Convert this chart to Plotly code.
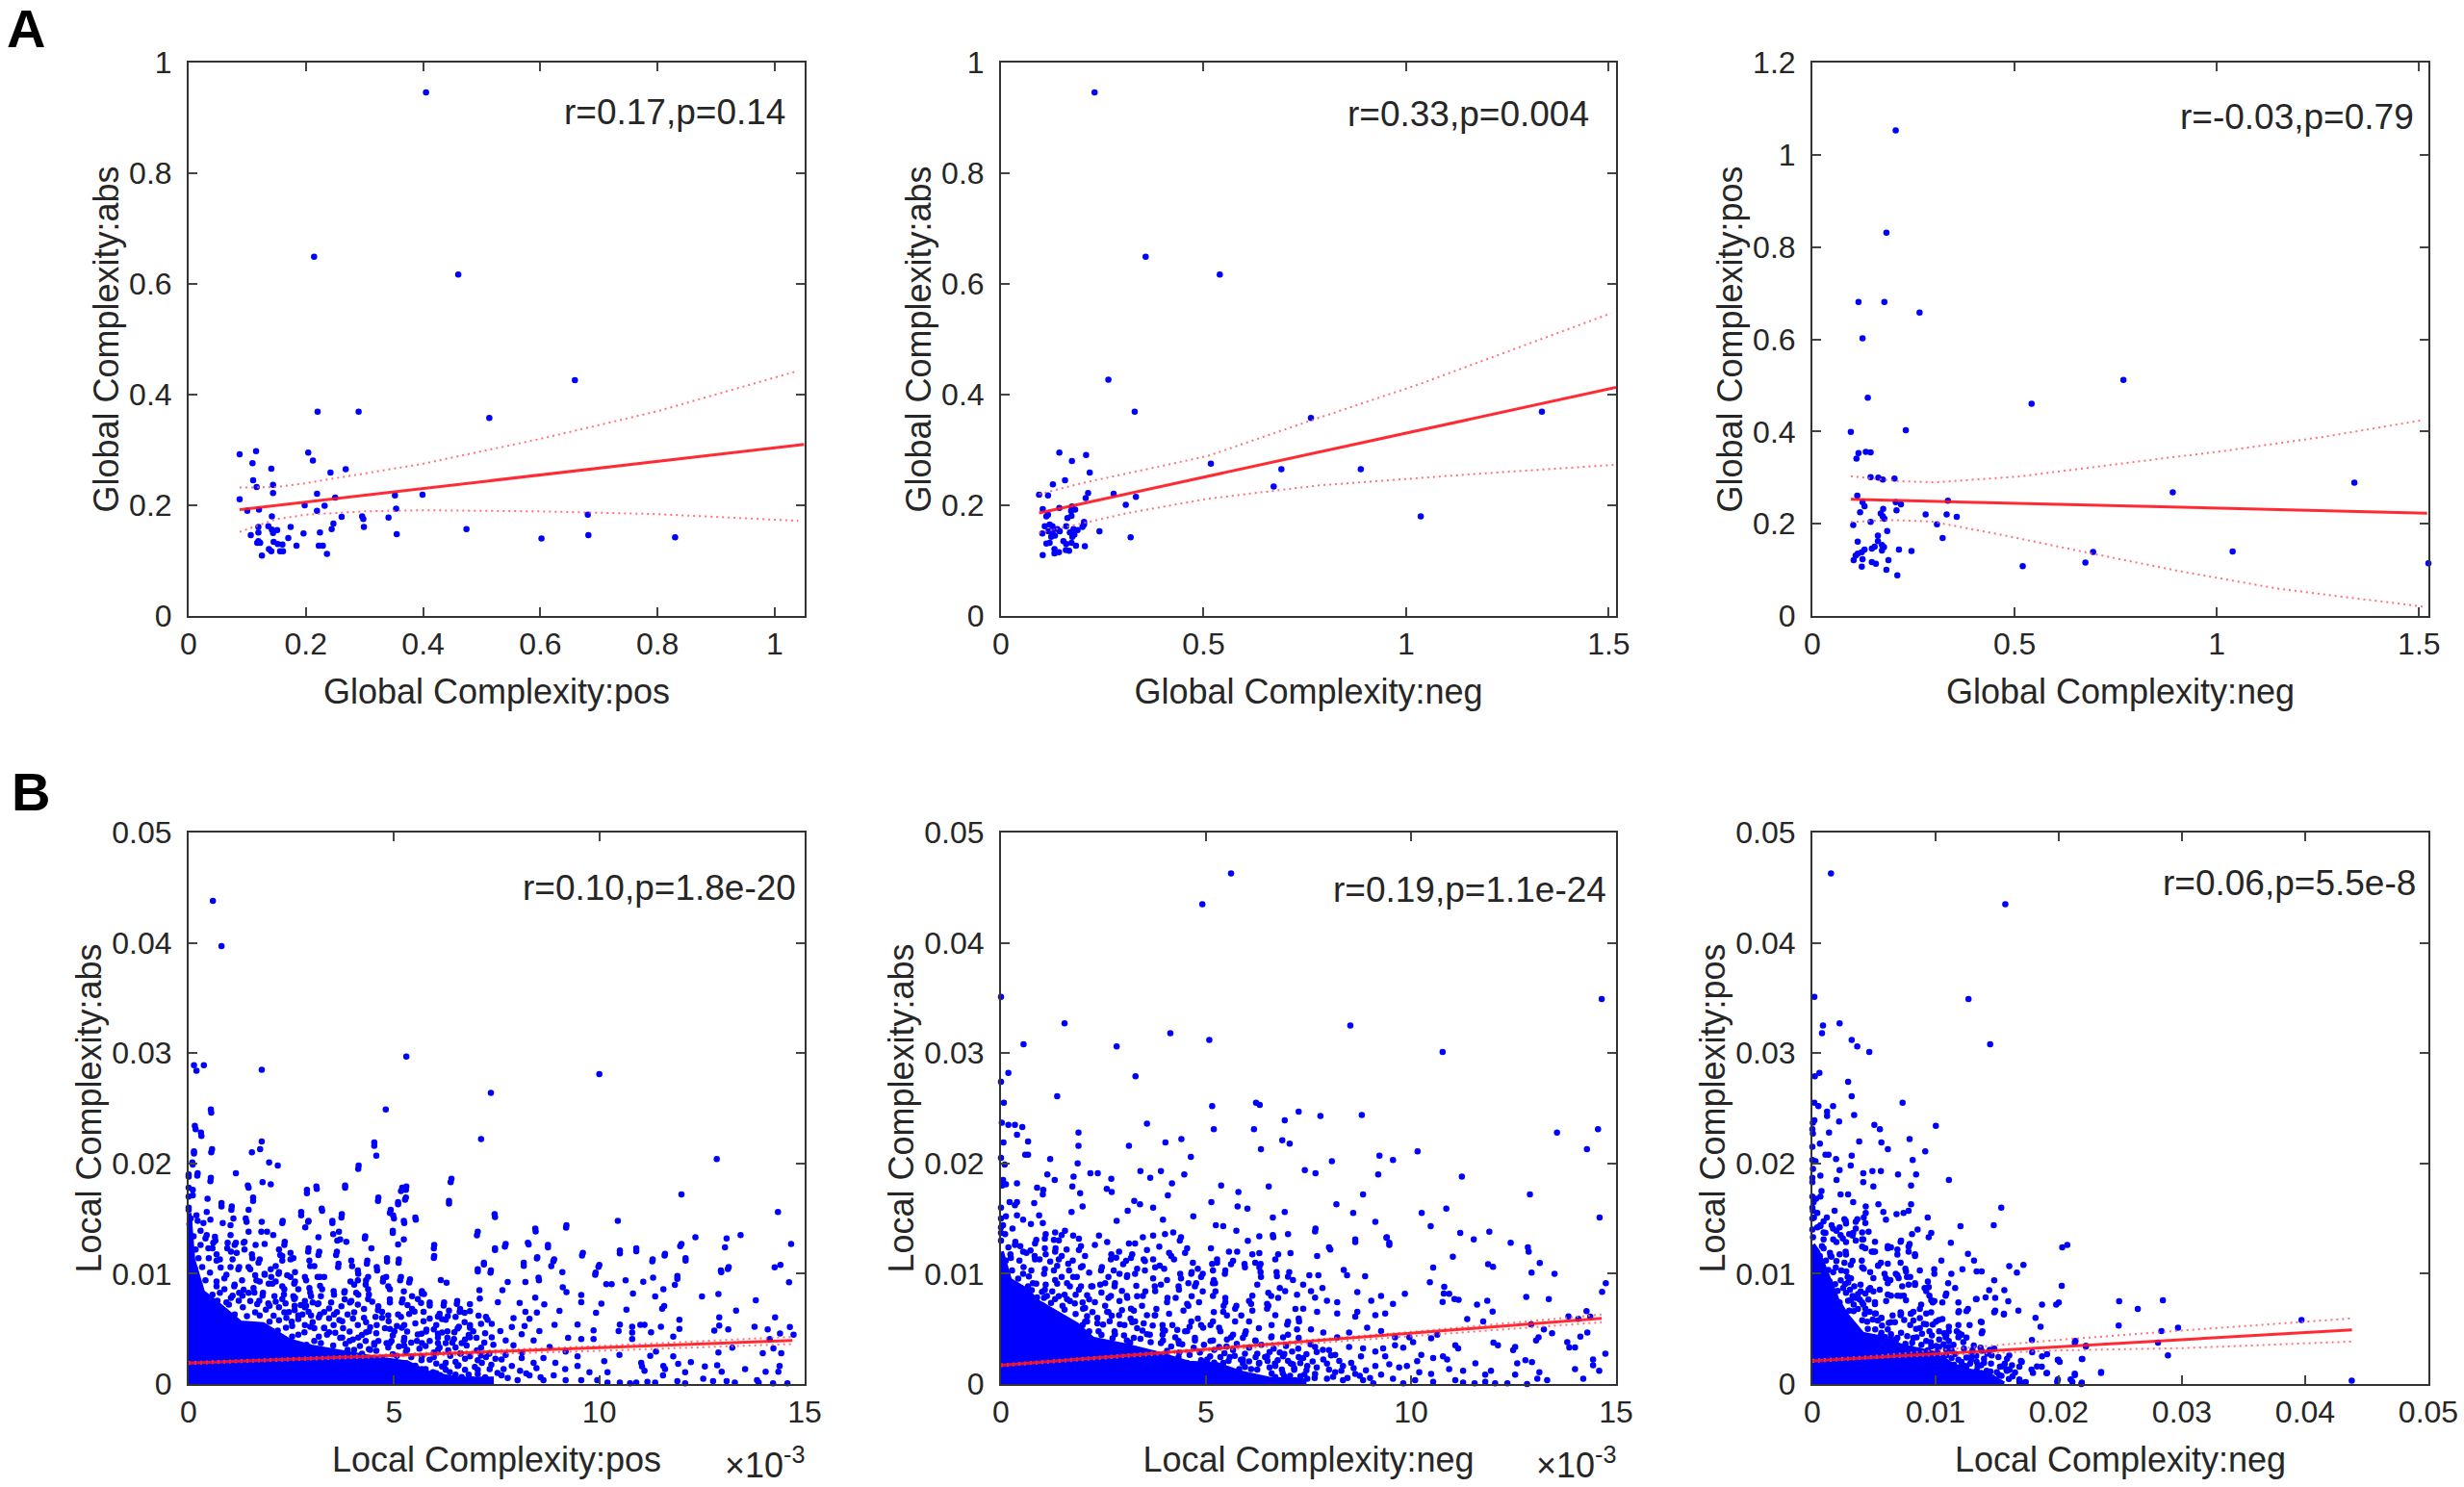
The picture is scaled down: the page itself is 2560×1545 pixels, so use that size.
import plotly.graph_objects as go

# ---------- Panel A: values ----------
a1_points = [(0.405,0.946),(0.214,0.649),(0.46,0.617),(0.659,0.426),(0.22,0.369),(0.29,0.369),(0.513,0.358),(0.087,0.292),(0.115,0.298),(0.204,0.295),(0.109,0.276),(0.212,0.281),(0.141,0.266),(0.268,0.265),(0.242,0.259),(0.11,0.245),(0.116,0.233),(0.144,0.237),(0.144,0.222),(0.219,0.221),(0.087,0.211),(0.25,0.214),(0.352,0.218),(0.399,0.219),(0.198,0.2),(0.232,0.199),(0.1,0.19),(0.12,0.192),(0.219,0.19),(0.354,0.194),(0.142,0.18),(0.261,0.179),(0.296,0.18),(0.298,0.175),(0.341,0.178),(0.681,0.183),(1.052,0.172),(0.247,0.167),(0.174,0.161),(0.136,0.162),(0.299,0.161),(0.244,0.157),(0.474,0.157),(0.119,0.161),(0.142,0.156),(0.151,0.155),(0.119,0.151),(0.106,0.146),(0.144,0.15),(0.196,0.149),(0.224,0.151),(0.355,0.148),(0.682,0.146),(0.83,0.142),(0.602,0.14),(0.17,0.141),(0.119,0.135),(0.117,0.132),(0.122,0.132),(0.145,0.134),(0.152,0.13),(0.16,0.129),(0.184,0.127),(0.222,0.127),(0.229,0.127),(0.137,0.121),(0.141,0.117),(0.156,0.117),(0.161,0.117),(0.125,0.109),(0.236,0.112)]
a1_fit_x = [0.087, 1.05]
a1_fit_y = [0.192, 0.31]
a1_up_x = [0.087,0.15,0.2,0.3,0.4,0.6,0.8,1.04]
a1_up_y = [0.232,0.233,0.24,0.257,0.275,0.32,0.37,0.443]
a1_lo_x = [0.087,0.15,0.2,0.3,0.4,0.6,0.8,1.04]
a1_lo_y = [0.152,0.175,0.183,0.189,0.191,0.189,0.184,0.172]

a2_points = [(0.231,0.946),(0.357,0.649),(0.54,0.617),(0.265,0.427),(0.33,0.369),(1.335,0.369),(0.765,0.358),(0.144,0.295),(0.21,0.291),(1.519,0.298),(0.175,0.28),(0.219,0.259),(0.518,0.275),(0.692,0.265),(0.888,0.265),(0.158,0.245),(0.128,0.238),(0.673,0.234),(0.094,0.219),(0.116,0.218),(0.215,0.222),(0.278,0.221),(0.209,0.213),(0.333,0.215),(0.103,0.193),(0.144,0.195),(0.175,0.198),(0.308,0.201),(0.183,0.192),(0.173,0.19),(0.112,0.18),(0.116,0.183),(0.174,0.181),(0.164,0.177),(1.036,0.18),(0.205,0.17),(0.205,0.165),(0.201,0.161),(0.12,0.165),(0.108,0.162),(0.127,0.162),(0.161,0.162),(0.139,0.157),(0.179,0.157),(0.189,0.155),(0.243,0.153),(0.102,0.149),(0.117,0.153),(0.127,0.151),(0.145,0.153),(0.17,0.151),(0.181,0.147),(0.124,0.143),(0.133,0.145),(0.176,0.143),(0.32,0.142),(0.112,0.131),(0.12,0.132),(0.154,0.135),(0.161,0.13),(0.174,0.132),(0.185,0.127),(0.207,0.126),(0.132,0.121),(0.143,0.115),(0.16,0.119),(0.168,0.118),(0.132,0.113),(0.103,0.11)]
a2_fit_x = [0.094, 1.518]
a2_fit_y = [0.186, 0.413]
a2_up_x = [0.094,0.2,0.51,0.76,1.033,1.506]
a2_up_y = [0.22,0.24,0.289,0.352,0.419,0.547]
a2_lo_x = [0.094,0.2,0.313,0.512,0.785,1.158,1.512]
a2_lo_y = [0.15,0.167,0.186,0.212,0.236,0.256,0.273]

a3_points = [(0.206,1.053),(0.183,0.831),(0.114,0.681),(0.178,0.681),(0.265,0.658),(0.124,0.602),(0.769,0.512),(0.542,0.46),(0.137,0.473),(0.095,0.399),(0.231,0.403),(0.132,0.356),(0.144,0.355),(0.114,0.353),(0.109,0.341),(0.144,0.301),(0.163,0.3),(0.174,0.296),(0.203,0.298),(1.34,0.289),(0.891,0.268),(0.111,0.261),(0.335,0.25),(0.124,0.247),(0.129,0.238),(0.206,0.247),(0.219,0.242),(0.118,0.225),(0.208,0.229),(0.175,0.232),(0.169,0.222),(0.174,0.216),(0.178,0.211),(0.28,0.22),(0.332,0.22),(0.357,0.215),(0.144,0.204),(0.101,0.197),(0.308,0.199),(0.185,0.184),(0.162,0.174),(0.322,0.169),(0.112,0.161),(0.162,0.162),(0.172,0.154),(0.154,0.15),(0.147,0.146),(0.177,0.149),(0.172,0.142),(0.214,0.144),(0.245,0.141),(0.129,0.144),(0.122,0.138),(0.112,0.135),(0.107,0.131),(0.694,0.139),(1.039,0.14),(0.102,0.121),(0.124,0.123),(0.188,0.121),(0.147,0.117),(0.157,0.113),(0.122,0.107),(0.183,0.1),(0.21,0.088),(0.52,0.108),(0.675,0.116),(1.523,0.114)]
a3_fit_x = [0.095, 1.52]
a3_fit_y = [0.253, 0.223]
a3_up_x = [0.095,0.219,0.306,0.505,0.779,1.027,1.276,1.512]
a3_up_y = [0.303,0.292,0.29,0.302,0.332,0.359,0.39,0.425]
a3_lo_x = [0.095,0.194,0.294,0.468,0.654,0.903,1.152,1.512]
a3_lo_y = [0.204,0.208,0.205,0.176,0.142,0.098,0.059,0.02]

# ---------- Panel B: values in units of 1e-3 ----------
b1_points = [(0.59,43.8),(0.8,39.7),(5.3,29.7),(0.13,28.9),(0.37,28.9),(0.19,28.4),(1.78,28.5),(10.0,28.1),(7.36,26.4),(0.54,24.9),(4.8,24.9),(0.15,23.4),(0.3,22.8),(7.12,22.2),(4.52,21.9),(1.78,22.0),(.13,21.1),(.57,21.3),(1.54,21.0),(1.74,21.3),(4.57,20.7),(12.86,20.4),(1.96,20.1),(2.17,19.8),(4.14,19.8),(.09,20.1),(0,19.0),(.22,19.1),(1.15,19.1),(.54,18.7),(6.4,18.6),(1.8,18.3),(2.0,18.1),(1.44,18.0),(3.11,17.9),(3.81,18.0),(2.88,17.6),(5.2,17.8),(5.3,17.9),(12.0,17.2),(1.57,16.9),(4.62,16.9),(5.29,16.9),(6.34,16.6),(5.1,16.5),(.8,16.4),(1.05,16.1),(3.24,15.9),(4.92,15.8),(2.74,15.6),(14.35,15.6),(7.45,15.4),(3.73,15.4),(4.98,15.3),(5.52,15.1),(10.45,14.8),(1.39,15.0),(2.29,14.8),(3.5,14.8),(2.92,14.8),(5.24,14.8),(9.2,14.4),(8.44,14.1),(4.97,13.9),(7.04,13.8),(13.44,13.5),(12.34,13.3),(4.3,13.4),(13.1,13.2),(3.69,13.1),(8.26,12.8),(7.72,12.7),(8.75,12.6),(12.0,12.7),(14.67,12.7),(5.98,12.6),(7.46,12.3),(13.06,12.4),(10.5,12.1),(10.9,12.3),(11.6,11.8),(9.6,11.9),(8.49,11.5),(5.98,11.6),(11.3,11.3),(8.9,11.3),(12.1,11.4),(7.19,11.0),(8.16,11.0),(8.83,10.7),(10.0,10.8),(14.41,10.8),(13.15,10.6),(12.96,10.3),(9.91,10.1),(7.04,10.4),(7.36,10.3),(8.52,9.65),(11.9,9.8)]
b1_lower_right = [(12.5,7.95),(12.9,8.15),(13.81,7.6),(13.33,6.66),(12.92,6.05),(14.28,6.05),(14.64,5.16),(13.78,5.19),(14.1,4.96),(13.14,4.96),(12.8,4.84),(12.92,5.3),(14.4,4.58),(14.73,4.47),(14.15,4.09),(11.95,5.82),(11.95,4.99),(11.8,4.29),(11.5,5.19),(11.1,5.36),(11.0,5.36),(10.8,5.2),(10.5,5.39),(10.47,4.81),(10.8,4.67),(10.8,4.09),(11.26,4.7),(11.53,6.83),(11.58,7.06),(10.66,6.74),(11.36,7.95),(10.82,8.2),(11.56,8.59),(11.84,8.99),(11.9,9.54),(11.31,9.65),(11.07,9.28),(10.64,9.4),(10.3,9.05),(10.17,9.05),(9.9,9.91),(9.98,10.63),(9.58,11.64),(11.29,11.12),(11.59,11.64),(12.1,11.2),(10.5,11.85),(10.9,12.05),(11.97,12.5),(12.97,10.14),(13.13,10.43),(14.27,10.58),(14.62,9.22),(10.49,2.65),(10.12,2.07),(10.2,1.07),(11.38,2.94),(11.24,2.56),(11.02,1.93),(11.04,1.59),(11.1,1.21),(11.56,1.64),(11.6,1.35),(11.55,0.78),(11.8,2.5),(11.92,1.84),(12.23,1.99),(12.09,1.07),(12.57,1.59),(12.87,1.7),(12.98,1.12),(12.9,2.85),(13.24,3.29),(13.98,2.8),(14.24,3.23),(14.43,2.8),(14.39,1.64),(14.36,1.12),(14.05,1.12),(13.55,1.35),(12.53,.49),(11.9,.26),(12.09,.06),(11.17,.2),(11.36,.14),(10.9,.14),(10.5,.14),(10.2,.14),(10.75,.06),(12.77,.26),(13.1,.26),(13.3,.12),(13.84,.35),(14.23,.06),(14.58,.06),(13.88,.14)]
b1_middle = [(5.97,12.3),(5.97,11.44),(6.38,18.3),(6.34,16.37),(6.14,9.42),(6.28,9.19),(7.02,13.49),(7.46,15.13),(7.46,12.16),(7.7,12.45),(8.45,13.83),(9.19,14.18),(8.28,12.65),(8.75,12.39),(8.48,11.38),(8.88,11.12),(8.16,10.72),(7.19,10.84),(7.04,10.2),(7.35,10.09),(9.1,10.14),(7.77,9.25),(8.53,9.4),(8.2,9.25),(9.11,8.76),(9.2,8.33),(9.56,8.07),(9.56,7.41),(10.05,7.29),(9.92,6.46),(9.03,6.63),(8.66,7.23),(8.44,7.84),(8.06,7.35),(7.64,8.5),(7.08,8.5),(7.09,7.75),(7.53,7.41),(6.85,6.6),(6.6,6.54),(6.53,7.26),(6.21,7.12),(5.87,7.12),(5.73,8.16),(8.48,6.48),(8.2,6.54),(8.3,5.91),(7.91,5.97),(7.28,5.82),(7.38,5.45),(8.91,5.36),(9.47,5.39),(9.86,4.87),(9.86,4.09),(9.56,4.09),(9.24,4.18),(8.54,4.81),(8.18,5.25),(7.87,5.16),(7.59,4.81),(6.85,5.1),(6.55,5.04),(6.26,5.82),(6.07,6.11),(5.78,4.76),(6.17,4.67),(5.97,4.96),(6.46,4.09),(6.85,4.24),(7.38,4.24),(7.72,3.95),(8.11,4.52),(7.91,3.52),(8.4,3.95),(8.79,3.37),(9.18,2.94),(9.47,2.5),(6.26,1.93),(6.55,1.64),(6.85,2.5),(7.14,1.93),(7.33,1.35),(7.62,2.22),(7.87,1.64),(8.11,2.36),(8.4,1.93),(8.64,2.36),(8.93,1.93),(9.17,1.35),(9.47,1.64),(9.76,1.07),(9.95,.35),(9.56,.35),(9.18,.35),(8.89,.78),(8.64,.35),(8.3,.78),(8.01,.35),(7.62,.78),(7.33,.35),(7.04,.92),(6.65,.63),(6.36,1.07),(6.07,.78)]
b1_left = [(.8,16.1),(.83,14.6),(1.02,14.4),(1.04,15.8),(1.09,15),(1.02,13.5),(.65,13),(.46,16.8),(.17,23.1),(.31,22.5),(.55,24.6),(.55,21),(.13,20.9),(.1,19.9),(.21,18.9),(.53,18.4),(0,18.8),(.1,17.6),(.1,17.1),(0,15.8),(.19,15.3),(.44,15.6),(.29,13.9),(.53,14.9),(.44,13.5),(.29,12.6),(.58,12.3),(.49,11.4),(.68,11.2),(.24,11.4),(.94,12.3),(1.12,12.6),(1.36,12.9),(1.17,11.9),(1.36,12.2),(1.02,10.6),(1.21,10.4),(1.55,11.4),(1.7,11),(1.5,10.4),(1.65,9.4),(.92,9.9),(.68,9.3),(1.12,9),(.87,8.6),(1.31,8),(1.07,8),(1.6,8.3),(1.46,15.8),(1.46,17.8),(1.57,16.6),(1.41,14.7),(1.78,14.7),(1.46,13.8),(1.77,13.8),(1.91,13.8),(2.06,13.5),(1.85,12.7),(1.63,12.6),(2.28,14.6),(2.33,12.6),(2.23,11.7),(2.48,11.3),(2.28,11.2),(2,10.4),(1.85,9.9),(2.19,10),(2.48,9.7),(2.57,9.1),(2.86,9.4),(2.96,10.7),(3.2,9.7),(2.91,12),(3.16,11.7),(3.16,13.3),(2.74,15.3),(2.91,14.7),(2.84,14.2),(3.25,15.7),(2.88,17.3),(3.12,17.7),(3.81,17.8),(3.5,14.6),(3.72,15.1),(3.52,13.6),(3.66,13.8),(3.62,13),(3.84,12.9),(3.59,11.7),(3.64,10.6),(3.98,10.7),(4.13,10),(4.03,9),(4.29,13.2),(4.45,12.3),(4.34,10.9),(4.59,10.3),(4.83,11.1),(5.11,11),(4.81,9.7),(4.73,9.3),(5.15,9.4),(5.37,9.2),(5.24,8.4),(5.68,8.2),(4.9,8.6),(4.32,9.4),(4.37,8.6),(4.13,8.1),(3.79,8.3),(3.54,8.1),(3.25,8.6),(2.96,8.3),(2.67,8.6),(2.33,8.6),(2.04,9.1),(2.57,7.7),(2.28,7.7),(1.8,8),(1.94,7.3),(3.16,7.3),(2.86,7.1),(3.93,7.4),(4.37,7.7),(4.9,7.4),(5.19,7.4),(5.58,7.7),(5.44,6.8),(5.1,6.3),(4.61,6.7),(4.03,6.5),(3.54,6.3),(3.2,6.3),(2.77,6.3),(2.33,6.5),(3.74,5.7),(3.3,5.1),(2.96,5.2),(4.32,4.7),(4.71,6),(4.9,5),(5.19,5.1),(5.58,4.5),(4.52,3.7),(4.9,3.7),(5.24,3.9),(5.68,3.7),(4.13,4.2),(3.74,4.2),(4.03,3.1),(4.42,3.1),(5.29,2.9),(5.68,2.5),(6.07,3.1),(6.26,3.7),(6.65,3.7),(6.07,4.2),(5,1.6),(5.68,1.35),(5.87,2.2),(5.29,1.9),(6.17,1.6),(5.95,1.07),(4.13,19.5),(4.52,21.6),(5.1,16.3),(5.27,16.7),(4.61,16.6),(4.9,15.5),(5,15),(5.25,14.6),(5.53,14.9),(4.97,13.7),(5.24,13.1),(5.1,12.65),(5.17,17.5),(5.29,17.6)]
b1_band = [(2.34,12.9),(2.92,12.3),(3.18,12),(3.61,12),(2.2,12.2),(2.28,11.6),(2.48,11.9),(2.55,11.4),(1.73,11.3),(1.54,11.75),(1.34,12.8),(1.15,12.8),(.95,12.8),(.64,13.35),(.6,12.8),(.68,11.75),(.76,11.3),(1.03,12),(1.07,11.3),(1.23,10.6),(1.46,10.6),(1.62,9.86),(1.73,9.3),(1.85,10),(2.01,9.7),(2.12,10.7),(2.2,10.15),(2.4,9.86),(2.59,10.15),(2.59,9.3),(2.83,9.7),(3.06,10.7),(2.94,11.2),(3.14,9.7),(3.3,9.7),(3.65,10.9),(3.96,11.2),(4.12,10.3),(4.12,9.4),(4.35,11.2),(4.37,9.7),(4.58,10.6),(4.74,9.6),(4.83,11.4),(5.12,11.3),(5.17,9.7),(5.39,9.5),(4.86,8.85),(4.31,9),(3.94,9.3),(3.2,8.9),(2.94,8.7),(2.28,8.85),(2.12,9.3),(1.58,8.7),(1.34,8.55),(1.11,8.85),(.87,9.57),(.68,8.85),(.41,9.4),(.33,10.6),(.17,12.2),(.41,13.2),(.48,12.3),(.76,8.26),(1.23,8.26),(1.46,8.26),(1.81,8.26),(2.09,7.97),(2.32,8.12),(2.55,7.97),(2.83,7.53),(2.98,7.97),(3.22,7.97),(3.53,8.41),(3.8,8.41),(4.08,8.26),(4.39,8.12),(4.62,7.04),(4.9,7.68),(5.21,7.68),(5.44,7.97),(5.68,8.41),(5.87,7.39),(6.22,7.39),(6.54,7.53),(6.85,7.24),(6.61,6.8),(6.34,6.66),(6.11,6.37),(5.87,5.93),(5.5,6.57),(5.17,6.08),(4.86,6.22),(4.55,6.08),(4.27,6.8),(3.96,7.53),(3.8,7.68),(3.61,6.52),(3.3,6.52),(3.14,7.24),(2.83,6.95),(2.59,7.82),(2.44,6.52),(2.2,6.95),(1.97,7.1),(1.73,6.22),(1.5,7.53),(1.03,7.82),(.8,6.8),(.33,7.82),(2.98,6.22),(2.67,6.22),(2.2,5.79),(2.51,5.64),(2.83,5.35),(3.06,5.06),(3.3,5.06),(3.53,5.35),(3.76,5.06),(4,5.93),(4.12,5.35),(4.39,4.77),(4.58,5.35),(4.78,5.06),(5.01,4.77),(5.25,5.35),(5.52,5.5),(5.79,4.92),(6.03,5.35),(6.3,4.77),(6.58,5.2),(6.85,5.35),(6.93,4.77),(6.5,6.08),(7.24,6.08),(7.01,4.19),(6.73,4.04),(6.3,4.19),(5.87,3.9),(5.56,3.9),(5.25,4.19),(4.94,3.9),(4.62,3.9),(4.31,3.9),(4,4.04),(3.69,4.19),(3.37,4.48),(3.06,3.9),(2.67,4.48),(2.36,3.9),(7.2,3.75),(6.11,3.32),(6.5,3.32),(5.25,3.46),(4.86,3.32),(4.39,3.17),(3.92,3.9),(6.03,1.86),(6.26,1.28),(6.5,2.01),(6.73,2.3),(7.04,2.15),(7.24,2.44),(6.73,1.28),(6.5,.84),(7.04,1.28),(6.89,.41),(6.03,.99),(5.87,.7),(0,16),(0,17),(0,17.8),(.02,14.5),(.05,15)]
b1_fringe = [(.16,7.1),(.52,6.85),(.98,7.2),(1.32,6.95),(1.67,7.25),(2.36,7.3),(2.73,7.15),(3.47,7.4),(4.12,7.2),(4.47,7.45),(5.33,7.15),(5.66,7.35),(.31,6.1),(.57,6.4),(.72,6.05),(1.12,6.3),(1.42,6.15),(1.62,6.5),(2.07,6.2),(2.38,6.0),(2.92,6.55),(3.17,6.05),(3.87,6.3),(4.27,6.0),(4.71,6.55),(5.37,6.35),(5.72,6.55),(6.31,6.15),(6.72,6.45),(7.06,6.2),(.56,5.5),(.82,5.25),(1.02,5.6),(1.47,5.2),(1.97,5.65),(2.37,5.1),(2.67,5.9),(3.02,5.6),(3.67,5.8),(4.32,5.6),(4.87,5.7),(5.07,5.25),(5.72,5.7),(6.17,5.9),(6.72,5.6),(7.12,5.45),(1.92,4.55),(2.17,4.85),(2.52,4.3),(2.82,4.7),(3.17,4.3),(3.57,4.65),(3.92,4.75),(4.22,4.45),(4.57,4.6),(4.97,4.4),(5.32,4.75),(5.67,4.55),(6.07,4.55),(6.47,4.7),(6.82,4.45),(7.22,4.6),(2.47,3.75),(2.87,3.55),(3.22,3.7),(3.52,3.5),(3.82,3.65),(4.17,3.45),(4.52,3.55),(4.82,3.7),(5.12,3.4),(5.42,3.75),(5.77,3.45),(6.07,3.7),(6.42,3.75),(6.77,3.5),(7.12,3.3),(7.42,3.55),(3.22,3.05),(3.52,2.9),(3.87,3.1),(4.22,2.75),(4.57,3.0),(4.97,2.7),(5.32,3.1),(5.62,3.2),(5.97,2.85),(6.32,3.05),(6.62,2.8),(7.02,3.05),(7.32,2.75),(4.72,2.35),(5.07,2.55),(5.42,2.45),(5.67,2.15),(5.97,2.45),(6.37,2.55),(6.62,2.75),(7.12,2.6),(7.47,2.3),(7.72,2.65),(8.12,2.85),(5.52,1.65),(5.77,1.35),(6.22,1.55),(6.57,1.7),(6.97,1.55),(7.37,1.75),(7.67,1.35),(8.07,1.2),(8.47,1.45),(6.12,.8),(6.42,.5),(6.82,.85),(7.22,.6),(7.52,1.0),(7.77,.55),(8.22,.95),(8.57,.6),(.12,13.4),(.22,14.8),(.36,14.6),(.16,10.4),(.52,10.1),(.78,10.55),(1.3,9.4),(1.95,9.1),(.26,9.05),(.58,8.1),(.92,7.4),(1.22,7.55),(1.72,7.55),(2.12,7.45),(2.58,7.1),(3.02,7.4),(3.42,6.85),(3.72,7.05),(2.52,5.25),(3.42,5.95),(4.42,5.15),(.45,7.3),(.7,7.55),(1.88,6.75),(2.58,6.7),(3.42,4.7)]
# outline of the area where the dots merge into solid blue
b1_core_x = [0,7.36,7.36,6.5,5.8,5.33,4.55,2.98,2.44,1.81,1.26,.95,.64,.33,.09,0]
b1_core_y = [0,0,.41,.41,.99,1.86,2.29,3.32,3.9,5.35,5.5,6.5,7.4,8.3,11.3,15.5]
b1_fit_x = [0, 14.7]
b1_fit_y = [1.9, 3.95]
b1_up_x = [0,5,10,14.7]
b1_up_y = [1.98,2.72,3.45,4.28]
b1_lo_x = [0,5,10,14.7]
b1_lo_y = [1.82,2.48,3.01,3.62]

b2_points = [(5.61,46.3),(4.91,43.5),(0,35.1),(14.65,34.9),(1.55,32.7),(8.52,32.5),(4.13,31.8),(5.08,31.2),(.55,30.8),(2.82,30.6),(10.77,30.1),(3.28,27.9),(.18,28.2),(0,27.4),(1.37,26.1),(.07,25.5),(6.22,25.5),(6.31,25.3),(5.15,25.2),(7.26,24.7),(8.8,24.4),(7.79,24.3),(6.92,23.9),(.02,23.7),(.18,23.5),(.34,23.5),(.52,23.3),(3.56,23.6),(5.19,23.1),(6.17,23.1),(14.56,23.1),(13.56,22.8),(1.89,22.8),(.39,22.6),(.06,21.9),(.66,22),(4.01,21.9),(4.4,22.2),(6.86,22.1),(7.04,21.8),(3.12,21.6),(1.89,21.6),(6.34,21.3),(14.29,21.3),(10.16,21.1),(.66,20.8),(.59,20.8),(4.63,20.6),(9.23,20.7),(1.2,20.4),(9.56,20.3),(8.07,20.2),(.09,19.9),(1.87,20),(3.4,19.3),(2.36,19.1),(2.18,19.1),(3.9,19.3),(7.41,19.4),(7.67,19.1),(4.47,19),(9.2,19),(1.13,19),(1.31,18.5),(2.69,18.6),(3.64,18.7),(1.77,18.8),(11.24,18.8),(.12,18.1),(4.17,18.2),(5.37,18),(6.53,17.9),(1.74,17.9),(2.58,17.7),(2.7,17.4),(5.79,17.4),(8.83,17.2),(12.9,17.2),(4.07,17.1),(1.03,17.6),(1.93,17.3),(.21,16.5),(.39,16.5),(3.25,16.6),(3.39,16.3),(5.13,16.5),(8.18,16.3),(1.99,16.1),(3.09,15.7),(3.71,16),(5.77,16.1),(6.01,15.9),(10.86,15.9),(10.26,15.5),(8.59,15.5),(1.72,15.6),(4.69,15.2),(6.92,15.6),(6.63,15.1),(2.82,14.8),(14.6,15.1),(9.13,14.7),(3.95,14.9),(5.24,14.4),(5.42,14.3),(10.48,14.3),(0,13.7),(11.2,13.7),(11.91,13.8),(7.67,14.1),(5.74,13.9),(9.41,13.3),(4.39,13.3),(6.63,13.5),(11.53,13.1),(8.64,13.1),(12.43,12.8),(9.47,12.8),(12.85,12.4),(8,12.4),(12.87,12)]
b2_lower_right = [(11.02,11.53),(10.54,10.55),(11.88,10.87),(12,10.63),(13.14,10.98),(12.94,10.1),(13.5,10),(10.46,9.22),(10.81,8.82),(9.85,8.18),(10.8,8.2),(10.93,8.18),(10.77,7.44),(11.06,7.69),(11.16,7.64),(11.61,7.2),(11.86,7.55),(12.81,7.9),(13.36,7.69),(14.75,9.14),(14.66,8.36),(11.99,6.57),(11.37,5.88),(11.76,5.68),(13.84,6.14),(14.08,5.91),(14.28,6.6),(14.37,6.11),(12.93,5.42),(13.24,4.96),(13.44,4.61),(13.11,4.24),(13.05,3.95),(14.13,4.29),(14.3,4.67),(13.81,3.8),(13.86,3.31),(14,3.31),(14.74,2.74),(12.01,3.75),(12.12,3.52),(12.54,3.37),(12.49,3.08),(11.08,3.52),(11.15,3.23),(10.49,4.15),(10.64,4.47),(9.81,3.29),(9.96,4.24),(10.05,3.8),(10.54,2.36),(10.78,2.5),(10.88,2.22),(10.25,2.65),(10.15,2.07),(12.59,1.87),(12.79,2.16),(12.95,1.99),(14.44,2.22),(14.44,1.7),(14,1.35),(14.59,1.21),(14.2,.49),(12.54,.84),(13.13,1.07),(13.08,.49),(13.32,.35),(12.83,0),(12.35,.06),(12.05,.06),(11.95,1.21),(11.81,.84),(11.57,1.87),(11.27,1.21),(10.93,1.35),(10.49,.92),(11.08,.35),(11.55,.06),(11.81,.2),(11.27,.14),(10.54,.2),(10.2,1.07),(10.1,.35),(9.9,1.64),(9.71,1.5),(9.47,1.79),(9.27,.84),(9.56,.49),(9.81,.06),(9.13,1.64),(9.08,.06)]
b2_middle = [(9.61,3.52),(9.32,3.23),(9.13,2.94),(9.37,2.5),(8.83,3.23),(8.78,2.5),(8.49,3.37),(8.54,1.93),(8.34,1.64),(8.15,2.65),(8,3.08),(7.86,2.22),(7.66,3.37),(7.47,1.64),(7.37,2.36),(7.12,1.79),(6.88,2.5),(6.69,1.64),(6.49,2.5),(6.3,1.93),(6.1,1.35),(7.66,.92),(8.15,1.07),(8.64,.92),(8.83,.35),(8.34,.35),(7.95,.49),(7.47,.49),(7.17,.35),(6.69,.63),(9.61,4.24),(9.27,4.81),(8.93,5.1),(8.49,4.67),(8.2,4.24),(7.86,4.67),(7.56,4.96),(7.27,5.68),(7.22,4.96),(6.98,5.39),(6.69,6.25),(6.49,6.83),(6.93,8.42),(6.59,7.98),(6.49,7.26),(6.1,7.26),(5.71,6.83),(5.47,7.41),(5.42,6.54),(5.17,5.68),(4.93,5.1),(5.32,5.1),(5.61,4.24),(5.95,4.52),(6.2,3.95),(6.59,4.24),(6.88,4.24),(5.71,5.68),(6.05,5.68),(4.64,5.68),(4.54,4.81),(4.25,4.24),(3.95,4.96),(3.76,6.25),(4.05,7.41),(4.54,7.26),(4.83,7.41),(5.17,7.98),(5.22,9.14),(4.73,8.85),(4.34,8.56),(3.76,8.42),(3.46,7.98),(3.17,6.83),(3.07,7.98),(2.68,7.98),(2.78,9.14),(3.07,9.71),(3.27,10),(2.98,10.87),(3.17,11.44),(2.68,11.3),(2.88,12),(3.12,12.74),(3.27,12.74),(2.59,12.88),(2.29,12.6),(2.39,13.46),(3.46,13.3),(3.71,13.46),(3.56,12.16),(3.51,11.15),(3.76,10.58),(4.05,9.42),(4.39,9.57),(4.64,10),(4.88,9.71),(5.17,10.29),(5.17,9.14),(5.46,10),(5.27,11),(5.61,10.87),(5.76,12),(5.56,12),(5.12,12.3),(4.68,11),(4.54,12.3),(4.36,13),(4.15,11.6),(4,13.6),(4.2,13.75),(3.86,12.45),(5.95,10.58),(6.3,10.58),(6.34,9.71),(6.73,9.77),(7.03,10.14),(7.12,9.42),(7.52,9.86),(7.74,9.86),(7.37,9),(7.84,8.7),(7.56,8.42),(7.66,7.84),(7.95,7.55),(8.2,7.41),(7.37,6.83),(7.71,6.54),(8.2,6.4),(8.69,6.54),(8.64,6.11),(9.13,6.25),(9.37,6.4),(9.03,7.55),(9.27,7.98),(9.56,7.26),(8.69,8.33),(8.88,9.77),(8.44,9.86),(8.36,10.35),(8.03,12.2),(7.71,11.6),(7.06,11.87),(6.69,11.3),(6.3,11.87),(6.2,11),(6.02,12.97),(6.64,13.3),(7,13.6),(6.3,13.4),(7.66,13.83),(8.64,12.88),(9.47,12.6),(9.4,13.26)]
b2_left = [(.34,16.2),(.39,15.3),(.54,14.9),(.73,14.5),(1.02,14.6),(.93,15.3),(.81,16.4),(1.02,17.2),(.88,17.8),(.39,18.2),(1.32,13.75),(1.56,13.9),(1.76,13.46),(1.9,13.17),(1.9,12.16),(1.41,13.03),(1.07,13.17),(.83,12.74),(.34,12.6),(.54,12),(.24,11.44),(.83,11.3),(1.07,12.3),(1.32,12),(1.41,11.3),(1.07,10.43),(1.37,10.72),(1.66,10.29),(1.95,10.58),(1.85,9.71),(1.61,9.14),(1.32,9.42),(1.07,8.56),(.78,9.14),(.54,10),(1.9,8.56),(2.2,8.85),(2.44,10.29),(2.54,9.14),(2.29,7.41),(2,6.83),(1.61,7.69),(1.32,7.69),(1.12,7.98),(1.02,7.12),(2.59,6.54),(2.88,6.25),(2.49,5.39),(2.1,5.68),(3.07,3.95),(3.27,5.68),(3.56,6.25),(2.78,4.52),(3.56,4.52),(3.95,3.95),(4.34,3.66),(4.73,3.95),(5.17,3.95),(4.05,2.5),(4.54,1.93),(5.03,2.22),(5.42,1.93),(5.81,1.35),(5.9,2.22),(5.66,3.08),(5.32,3.37)]
b2_band = [(.35,12.9),(.47,12.5),(.86,13.06),(1.09,13.6),(1.29,13.06),(1.48,13.5),(.23,11.75),(.82,11.6),(.94,11.3),(.55,10.6),(.74,10.3),(1.09,11.75),(1.33,12.3),(1.48,11.6),(1.64,10.9),(1.95,12.5),(1.99,10.7),(1.05,10),(1.29,10.3),(1.48,9.7),(1.76,9.7),(1.95,8.85),(1.68,8.85),(1.37,9.1),(1.09,9),(.86,9.1),(.66,8.85),(.35,9),(.27,10.3),(1.05,7.8),(1.41,7.97),(1.68,7.53),(1.99,7.39),(2.23,8.85),(2.42,9),(2.62,9.7),(2.89,10),(3.08,9.86),(3.32,10.44),(3.51,10.3),(3.71,9.57),(2.46,10.6),(2.69,11.75),(2.81,11.46),(3.05,11.17),(3.2,11.75),(3.48,11.3),(3.71,11.3),(3.87,10.73),(3.98,10.44),(4.1,11.9),(4.22,11.3),(4.49,11.9),(4.37,10),(4.65,10.15),(4.8,10.44),(4.92,10),(4.33,8.85),(4.57,9.13),(4.76,9.13),(4.92,8.4),(5.19,9.43),(5.23,8.4),(5.47,10.3),(5.27,11.3),(5.15,10.88),(5.66,11.17),(5.94,10.88),(6.13,11.75),(6.33,10.88),(6.33,10.15),(7,9.72),(6.76,11.75),(6.72,10.15),(6.25,9),(6.13,8),(6.52,8.26),(6.8,8.7),(7.22,8.1),(6.05,7.53),(5.74,7.1),(5.47,7.82),(5.43,7.1),(6.52,7.1),(6.76,7.82),(7.18,6.8),(6.13,6.66),(5.86,6.22),(5.51,6.22),(5.19,6.52),(4.88,5.35),(4.57,7.1),(4.65,7.97),(4.45,6.66),(4.26,7.82),(4.06,7.82),(3.75,8.85),(3.9,9),(3.52,8.4),(3.32,7.97),(3.08,7.82),(2.77,8.85),(2.62,7.82),(2.89,7.53),(3.44,7.1),(3.24,6.66),(3.79,6.8),(4.1,6.37),(3.16,5.93),(3.48,5.5),(3.75,6.22),(3.94,5.35),(4.18,5.35),(4.49,4.77),(4.8,5.93),(5.11,5.35),(5.35,4.77),(5.66,4.48),(5.97,4.77),(6.29,5.06),(6.6,5.35),(7,5.64),(7.26,5.93),(7,4.48),(6.6,4.33),(6.21,3.9),(5.9,4.19),(5.51,4.04),(5.11,3.9),(4.73,4.19),(4.33,3.9),(3.94,4.48),(3.63,4.48),(3.32,5.06),(3.24,4.19),(3.01,5.35),(2.62,6.52),(2.23,6.52),(2.54,7.1),(2.15,7.68),(2.38,4.77),(2.77,4.77),(1.99,5.35),(2.15,4.77),(7.26,4.19),(4.33,2.44),(4.57,1.57),(4.88,2.15),(5.35,2.44),(5.58,2.44),(5.9,1.86),(6.21,2.44),(6.44,2.44),(6.68,1.86),(6.29,1.86),(6.91,2.73),(7.07,1.86),(7.26,2.44),(6.87,.99),(7.15,1.28),(6.91,.7),(7.3,.7),(0,13),(0,14.2),(0,15),(0,16),(.03,18),(0,20.5),(.05,18.5),(.05,14.4)]
b2_fringe = [(.15,9.9),(.42,9.55),(.68,9.75),(.22,8.6),(.48,8.3),(.75,8.5),(1.0,8.35),(.62,7.6),(.88,7.85),(1.22,7.35),(1.5,7.1),(1.8,7.3),(2.05,6.9),(1.2,6.55),(1.55,6.75),(1.82,6.35),(2.1,6.15),(2.35,6.0),(2.7,6.2),(2.95,6.7),(2.05,5.65),(2.35,5.5),(2.65,5.7),(2.9,5.4),(3.2,5.6),(3.45,4.85),(3.7,5.3),(4.0,4.85),(4.3,4.9),(4.6,5.2),(2.45,4.45),(2.72,4.15),(3.0,4.4),(3.15,3.75),(3.4,4.1),(3.65,3.8),(3.9,3.7),(4.15,3.4),(4.42,3.6),(4.7,3.3),(4.95,3.55),(5.2,3.1),(5.5,3.4),(5.75,3.65),(6.05,3.3),(6.35,3.55),(6.65,3.2),(6.95,3.45),(7.25,3.2),(7.55,3.6),(7.85,3.1),(4.05,3.0),(4.35,2.85),(4.6,2.65),(4.85,2.85),(5.1,2.5),(5.45,2.8),(5.7,2.55),(5.95,2.75),(6.25,2.75),(6.55,2.9),(6.8,2.85),(7.1,2.95),(7.45,2.7),(7.7,2.9),(8.05,2.6),(5.0,2.0),(5.2,1.95),(5.55,2.1),(5.85,2.2),(6.05,2.05),(6.5,2.1),(6.75,2.15),(7,2.1),(7.3,1.9),(7.6,2.05),(7.95,1.85),(8.25,2.1),(5.95,1.55),(6.25,1.3),(6.55,1.5),(6.85,1.3),(7.15,1.45),(7.45,1.25),(7.7,1.5),(8.0,1.3),(8.3,1.2),(8.6,1.45),(8.9,1.25),(6.6,.95),(7.05,.75),(7.4,.85),(7.65,.55),(8.1,.65),(8.45,.55),(8.75,.75),(9.0,.55),(.12,11.2),(.18,12.4),(.1,13.6),(.28,14.1),(.62,11.9),(.45,11.2),(.72,12.1),(.12,15.2),(1.2,11.1),(1.6,12.2),(1.75,11.2),(2.05,11.6),(2.15,10.1),(2.75,10.3),(.2,7.9),(.45,7.35),(.7,7.1),(1.25,8.4),(1.55,8.1),(1.82,8.1),(2.1,8.05),(2.45,8.3),(2.95,8.45),(3.3,8.9)]
b2_core_x = [0,7.38,7.38,6.52,5.82,5.27,4.57,3.79,3.01,2.23,1.84,1.44,.9,.59,.2,0]
b2_core_y = [0,0,.26,.41,.99,1.72,1.86,2.73,3.46,4.04,5.35,6.22,7.39,8.55,9.4,12]
b2_fit_x = [0, 14.65]
b2_fit_y = [1.7, 5.95]
b2_up_x = [0,5,10,14.65]
b2_up_y = [1.78,3.22,4.72,6.3]
b2_lo_x = [0,5,10,14.65]
b2_lo_y = [1.62,2.98,4.28,5.6]

b3_points = [(1.51,46.3),(15.66,43.5),(.16,35.1),(12.67,34.9),(2.21,32.7),(.86,32.5),(.78,31.8),(3.19,31.2),(14.43,30.8),(3.64,30.6),(4.62,30.1),(.57,28.2),(.2,27.9),(2.9,27.4),(3.19,26.1),(7.32,25.5),(.16,25.5),(.49,25.2),(1.68,25.2),(1.19,24.7),(1.19,24.3),(3.39,24.4),(2.17,23.8),(.04,23.7),(.16,23.9),(10.02,23.4),(5.03,23.5),(5.48,23.1),(0,23.1),(1.35,22.8),(.04,22.7),(3.8,22),(5.6,21.9),(7.89,22.2),(.61,21.8),(6.13,21.3),(9.16,21.1),(1.06,20.8),(1.31,20.8),(1.92,20.4),(3.19,20.7),(8.14,20.3),(0,20.3),(.25,20.2),(3.11,19.8),(11.08,18.5),(2.21,19.4),(4.13,19.1),(4.87,19.3),(5.56,19.3),(6.95,19),(8.42,19),(1.96,18.5),(0,18.7),(.65,18.9),(4.13,18.3),(4.95,17.9),(8.01,18),(2.29,17.2),(2.9,17.2),(.74,17.5),(3.31,16.5),(4.33,16.1),(8.01,16.3),(5.36,16.3),(7.81,15.7),(7.4,15.5),(6.83,15.4),(15.33,16),(5.76,15.6),(1.8,15.7),(.04,15.7),(9.36,15.1),(5.97,14.9),(4.33,15.5),(2.7,14.8),(3.52,14.7),(14.72,14.4),(12.02,14.3),(8.54,14),(7.2,13),(9.65,13.7),(9.44,13.3),(8.09,13.6),(11.24,12.8),(20.69,12.6),(20.28,12.4),(12.63,11.8),(13.12,11.2),(10.47,11.2),(17.13,10.8),(15.98,10.7),(16.6,10.1),(13.33,10.2),(13.74,10.2),(12.18,10.4),(11.28,10),(9.89,10.4),(14.76,9.4),(15.58,8.5),(20.24,8.9),(14.35,8.5),(14.84,7.8),(13.33,7.7),(24.9,7.5),(28.45,7.6),(26.41,6.8),(20,7.4),(19.79,7.2),(18.64,7.2),(15.9,7.5),(16.72,6.65),(14.76,6.5),(15.54,6.3),(18.11,6),(39.7,5.8),(18.52,5.2),(24.86,5.3),(29.68,5.1),(28.33,4.8),(17.82,4),(21.3,3.75),(28.05,3.75),(22.2,3.4),(19.05,2.7),(18.64,2.5),(28.86,2.6),(19.95,2.2),(20.07,2),(21.91,2.27),(17,2),(18.23,1.6),(19.05,1),(17.9,1),(23.43,1),(21.3,.8),(43.78,.3),(19.87,.2),(21.1,.2),(21.83,0),(17.13,.1),(16.8,.2),(15.17,.8),(15.78,1.2),(14.15,1.2),(15.37,1.6),(14.55,2.6),(15.98,2.6),(13.74,3),(12.9,2.4),(12.51,1.6),(13.33,1.2)]
b3_middle = [(9.44,8.8),(9.65,7.6),(10.87,8.2),(7.81,9),(7,9.6),(7.6,10.2),(6.38,12.4),(7.81,12),(5.56,11),(4.95,12),(4.01,11.2),(5.97,9.6),(4.95,9.6),(3.11,10.8),(2.7,12),(1.47,11.6),(2.29,13.5),(1.06,13.7),(1.68,14.1),(3.31,13.7),(.65,14.3),(4.13,13.1),(2.9,9.2),(3.92,8.4),(4.95,8.4),(6.38,8),(7.6,7.6),(8.83,7.2),(8.01,6.4),(9.24,6.4),(10.26,5.8),(11.08,5.2),(11.9,6.6),(12.51,6.6),(13.74,5.6),(11.9,4.6),(10.87,4.4),(12.51,4.2),(13.74,4.6),(9.24,5.4),(8.42,5),(7.2,6.4),(6.38,5.6),(5.15,6.4),(4.13,7.2),(3.11,7.6),(5.56,4.4),(6.79,4),(8.01,3.2),(9.65,3.4),(10.87,2.6),(12.1,2),(10.06,2),(11.7,.8),(9.24,1.8),(14.76,3.2),(13.33,2),(4.56,8.56),(6.12,9.14),(7.68,9.71),(9.24,8.42),(9.77,7.4),(7.16,7.98),(5.08,7.41),(3.26,7.98),(2.86,9.71),(1.95,11.15),(4.04,10.58),(5.34,10.72),(6.9,9.86),(8.33,8.99),(8.2,6.54),(9.77,5.39),(10.81,4.24),(11.85,4.24),(8.72,5.97),(7.16,6.25),(5.6,5.97),(4.3,6.83),(6.38,4.52),(8.46,4.24),(10.29,3.37),(11.07,3.37),(12.89,2.22),(13.93,1.93),(15.75,1.35),(12.37,1.64),(14.97,1.07),(14.19,1.07),(2.73,11.73),(.91,13.75),(1.95,13.9),(3.26,13.46),(4.04,13.75),(4.3,14.6),(2.73,14.55),(.91,14.75),(1.95,12.88),(.91,12.3),(2.73,12.88),(4.04,12.45),(4.82,12),(6.9,11.73),(6.12,12.3),(7.81,12.45),(8.33,11.6)]
b3_band = [(.13,15.1),(1.17,15.1),(2.6,14.95),(3.65,14.95),(4.17,15.1),(.65,14.4),(1.56,14.4),(2.21,14.2),(3.52,14.1),(4.56,13.8),(2.99,13.6),(4.04,13.1),(5.08,12.9),(2.47,13.2),(3.52,13),(.91,13.1),(1.69,13.1),(.78,12.5),(1.43,11.9),(2.21,11.75),(4.3,12.3),(5.08,12),(6.12,12.5),(6.9,12.2),(7.16,12.9),(7.89,12.7),(8.33,11.75),(7.16,11),(6.12,10.9),(5.34,10.76),(4.17,10.44),(3.26,11.17),(2.6,11),(1.69,10.15),(2.34,10.3),(3.13,9.57),(3.91,9),(4.69,10.15),(5.86,10),(6.33,9.43),(6.77,10),(7.55,10.44),(7.94,9.7),(8.72,10.3),(9.9,10),(9.37,9.3),(8.33,9.13),(7.29,8.85),(6.12,8.12),(5.47,8.55),(4.69,8.7),(3.52,7.82),(2.73,8.26),(2.21,7.39),(2.99,6.66),(4.04,7.39),(5.08,7.24),(5.99,7.53),(6.9,8),(7.42,8),(9.11,8.7),(9.5,8),(9.9,7.53),(10.55,7.39),(11.85,7.39),(10.81,8),(11.59,8.7),(11.02,9.13),(7.16,6.5),(7.99,6.37),(8.72,6.8),(9.64,6.5),(5.6,6),(6.51,6.22),(4.04,5.79),(5.08,6.4),(10.55,5.9),(10.03,5.64),(11.07,4.77),(11.85,5.35),(11.72,4.77),(12.76,5.35),(13.67,5.64),(13.8,4.77),(11.85,6.5),(12.63,6.8),(13.28,7.7),(14.06,7.85),(14.84,6.66),(15.55,6.37),(6.12,4.95),(6.9,4.19),(7.94,5.35),(8.72,5.06),(9.5,4.77),(10.29,4.77),(6.38,4.19),(8.2,4.19),(9.24,3.9),(10.29,4.04),(11.07,3.9),(12.11,4.48),(7.03,1.86),(8.2,1.57),(9.24,2.15),(11.59,2.73),(12.89,2.59),(13.93,2.3),(12.37,1.57),(13.41,1.57),(14.45,1.13),(15.23,1.57),(16,1.28),(15.62,1.86),(16.93,2.1),(16.8,1.57),(17.84,2.88),(17.79,1.31),(18.62,1.57),(19,.99),(19.92,2.18),(21.87,2.27),(23.44,1.08),(21.3,.93),(19.92,.41),(20.96,.41),(21.87,.12),(16.8,.41),(17.32,.17),(21.35,3.9),(22.2,3.46),(0,14),(0,15),(0,16),(0,17),(0,18.3),(.05,13.3),(.05,19.5),(0,21.5),(.1,16.5),(.4,14.2),(.3,16.8),(.65,17),(.4,15.5)]
b3_fringe = [(.6,11.6),(1.1,11.2),(1.55,11.55),(.85,10.6),(1.3,10.35),(1.9,10.55),(2.75,10.2),(1.4,9.3),(1.85,9.05),(2.3,9.4),(2.65,9.05),(3.4,8.85),(2.05,8.45),(2.5,8.7),(3.05,8.55),(3.7,8.15),(4.3,8.2),(2.9,7.55),(3.35,7.2),(3.85,7.65),(4.55,7.65),(3.35,6.6),(3.7,6.8),(4.25,6.35),(4.65,6.55),(5.3,5.75),(4.45,5.65),(4.9,5.85),(5.65,5.3),(6.2,5.55),(6.7,5.6),(7.45,5.8),(8.2,5.75),(9.05,5.45),(4.5,5.0),(5.1,4.95),(5.6,4.65),(7.2,4.65),(7.7,4.35),(8.9,4.55),(9.7,4.4),(10.7,4.6),(5.9,4.25),(6.6,3.75),(7.55,3.65),(8.1,3.75),(8.85,3.55),(9.6,3.8),(10.05,3.45),(10.65,3.6),(11.45,3.55),(12.25,3.8),(13.1,3.5),(7.9,3.0),(8.6,3.05),(9.35,3.05),(10.15,2.95),(10.85,3.15),(11.3,3.05),(12.3,3.2),(13.0,3.05),(13.65,3.3),(14.4,3.1),(10.5,2.4),(11.3,2.35),(11.85,2.2),(12.5,2.4),(13.3,2.55),(14.2,2.75),(15.1,2.45),(15.8,2.3),(11.5,1.75),(12.0,1.55),(12.8,1.85),(13.7,1.7),(14.5,1.85),(16.2,1.7),(16.45,1.05),(12.8,1.05),(13.7,1.0),(14.55,.6),(15.35,.75),(15.95,.45),(16.25,.7)]
b3_core_x = [0,15.5,14.2,12.1,11.07,10,7.42,5.34,4.04,2.73,1.95,1.17,.39,0]
b3_core_y = [0,0,.84,1.28,1.86,2.73,3.32,4.19,4.48,6.22,7.68,9.72,12,12.6]
b3_fit_x = [0, 43.8]
b3_fit_y = [2.1, 4.9]
b3_up_x = [0,5,10,15,20,30,43.8]
b3_up_y = [2.2,2.55,3.05,3.55,4,4.85,5.95]
b3_lo_x = [0,5,10,15,20,30,43.8]
b3_lo_y = [2.0,2.35,2.6,2.85,3.05,3.25,3.85]

# ---------- Labels ----------
x_titles = ["Global Complexity:pos","Global Complexity:neg","Global Complexity:neg",
            "Local Complexity:pos","Local Complexity:neg","Local Complexity:neg"]
y_titles = ["Global Complexity:abs","Global Complexity:abs","Global Complexity:pos",
            "Local Complexity:abs","Local Complexity:abs","Local Complexity:pos"]
stats = ["r=0.17,p=0.14","r=0.33,p=0.004","r=-0.03,p=0.79",
         "r=0.10,p=1.8e-20","r=0.19,p=1.1e-24","r=0.06,p=5.5e-8"]
tick_a1x = [0,0.2,0.4,0.6,0.8,1]
tick_a15 = [0,0.5,1,1.5]
tick_a_y = [0,0.2,0.4,0.6,0.8,1]
tick_a3y = [0,0.2,0.4,0.6,0.8,1,1.2]
tick_b_x = [0,5,10,15]
tick_b_y = [0,0.01,0.02,0.03,0.04,0.05]
tick_b3x = [0,0.01,0.02,0.03,0.04,0.05]

W, H = 2560, 1545
def fx(px): return px / W
def fy(py): return 1 - py / H

FONT = "Liberation Sans"
TXT = "#262626"
BLUE = "#0000ff"
RED = "rgba(255,20,30,0.9)"
PINK = "rgba(255,90,100,0.85)"
MS = 6.5

lefts = [196, 1040, 1883]
rights = [836, 1679, 2523]
rows = [(65, 640), (865, 1438)]
stat_right = [18, 26, 13, 7, 8, 11]
stat_down = [51, 54, 57, 57, 59, 52]

fig = go.Figure()

panels = [
    dict(pts=[a1_points], core=None, fit=(a1_fit_x,a1_fit_y), up=(a1_up_x,a1_up_y), lo=(a1_lo_x,a1_lo_y),
         xr=[0,1.051], yr=[0,1], xt=tick_a1x, yt=tick_a_y, sx=1, sy=1),
    dict(pts=[a2_points], core=None, fit=(a2_fit_x,a2_fit_y), up=(a2_up_x,a2_up_y), lo=(a2_lo_x,a2_lo_y),
         xr=[0,1.518], yr=[0,1], xt=tick_a15, yt=tick_a_y, sx=1, sy=1),
    dict(pts=[a3_points], core=None, fit=(a3_fit_x,a3_fit_y), up=(a3_up_x,a3_up_y), lo=(a3_lo_x,a3_lo_y),
         xr=[0,1.523], yr=[0,1.2], xt=tick_a15, yt=tick_a3y, sx=1, sy=1),
    dict(pts=[b1_points,b1_lower_right,b1_middle,b1_left,b1_band,b1_fringe], core=(b1_core_x,b1_core_y), fit=(b1_fit_x,b1_fit_y),
         up=(b1_up_x,b1_up_y), lo=(b1_lo_x,b1_lo_y), xr=[0,15], yr=[0,0.05], xt=tick_b_x, yt=tick_b_y, sx=1, sy=1e-3),
    dict(pts=[b2_points,b2_lower_right,b2_middle,b2_left,b2_band,b2_fringe], core=(b2_core_x,b2_core_y), fit=(b2_fit_x,b2_fit_y),
         up=(b2_up_x,b2_up_y), lo=(b2_lo_x,b2_lo_y), xr=[0,15], yr=[0,0.05], xt=tick_b_x, yt=tick_b_y, sx=1, sy=1e-3),
    dict(pts=[b3_points,b3_middle,b3_band,b3_fringe], core=(b3_core_x,b3_core_y), fit=(b3_fit_x,b3_fit_y),
         up=(b3_up_x,b3_up_y), lo=(b3_lo_x,b3_lo_y), xr=[0,0.05], yr=[0,0.05], xt=tick_b3x, yt=tick_b_y, sx=1e-3, sy=1e-3),
]

layout = {}
annotations = []
for i, p in enumerate(panels):
    n = "" if i == 0 else str(i + 1)
    xa, ya = "x" + n, "y" + n
    col, row = i % 3, i // 3
    sx, sy = p["sx"], p["sy"]
    top, bottom = rows[row]
    if p["core"]:
        fig.add_trace(go.Scatter(x=[v*sx for v in p["core"][0]], y=[v*sy for v in p["core"][1]],
                                 mode="lines", fill="toself", fillcolor=BLUE,
                                 line=dict(color=BLUE, width=6), xaxis=xa, yaxis=ya,
                                 cliponaxis=False, showlegend=False, hoverinfo="skip"))
    xs, ys = [], []
    for group in p["pts"]:
        xs += [q[0]*sx for q in group]
        ys += [q[1]*sy for q in group]
    fig.add_trace(go.Scatter(x=xs, y=ys, mode="markers", marker=dict(color=BLUE, size=MS, line=dict(width=0)),
                             xaxis=xa, yaxis=ya, cliponaxis=False, showlegend=False))
    for band in ("up", "lo"):
        fig.add_trace(go.Scatter(x=[v*sx for v in p[band][0]], y=[v*sy for v in p[band][1]], mode="lines",
                                 line=dict(color=PINK, width=2, dash="2px 4px"), xaxis=xa, yaxis=ya,
                                 cliponaxis=False, showlegend=False))
    fig.add_trace(go.Scatter(x=[v*sx for v in p["fit"][0]], y=[v*sy for v in p["fit"][1]], mode="lines",
                             line=dict(color=RED, width=3), xaxis=xa, yaxis=ya,
                             cliponaxis=False, showlegend=False))
    common = dict(showgrid=False, zeroline=False, showline=True, linecolor="#333333", linewidth=2,
                  mirror="ticks", ticks="inside", ticklen=9, tickwidth=1.5, tickcolor="#444444",
                  tickfont=dict(family=FONT, size=32, color=TXT), automargin=False)
    layout["xaxis" + n] = dict(common, domain=[fx(lefts[col]), fx(rights[col])], range=p["xr"], anchor=ya,
                               tickmode="array", tickvals=p["xt"], ticktext=[f"{t:g}" for t in p["xt"]],
                               title=dict(text=x_titles[i], font=dict(family=FONT, size=36, color=TXT), standoff=19))
    layout["yaxis" + n] = dict(common, domain=[fy(bottom), fy(top)], range=p["yr"], anchor=xa,
                               tickmode="array", tickvals=p["yt"], ticktext=[f"{t:g}" for t in p["yt"]],
                               ticklabelstandoff=9,
                               title=dict(text=y_titles[i], font=dict(family=FONT, size=36, color=TXT), standoff=0))
    annotations.append(dict(text=stats[i], x=fx(rights[col]-stat_right[i]), y=fy(top+stat_down[i]), xref="paper", yref="paper",
                            xanchor="right", yanchor="middle", showarrow=False,
                            font=dict(family=FONT, size=37, color=TXT)))
    if i in (3, 4):
        annotations.append(dict(text="×10<sup>-3</sup>", x=fx(rights[col]+2), y=fy(bottom+82), xref="paper", yref="paper",
                                xanchor="right", yanchor="middle", showarrow=False,
                                font=dict(family=FONT, size=36, color=TXT)))

for letter, px, py in (("A", 5, 29), ("B", 10, 822)):
    annotations.append(dict(text=f"<b>{letter}</b>", x=fx(px), y=fy(py), xref="paper", yref="paper",
                            xanchor="left", yanchor="middle", showarrow=False,
                            font=dict(family=FONT, size=56, color="#000000")))

fig.update_layout(width=W, height=H, margin=dict(l=0, r=0, t=0, b=0), paper_bgcolor="white",
                  plot_bgcolor="white", annotations=annotations, showlegend=False, **layout)
fig.write_html("out.html", config={"displayModeBar": False},
               post_script="document.body.style.margin='0';document.body.style.overflow='hidden';")
